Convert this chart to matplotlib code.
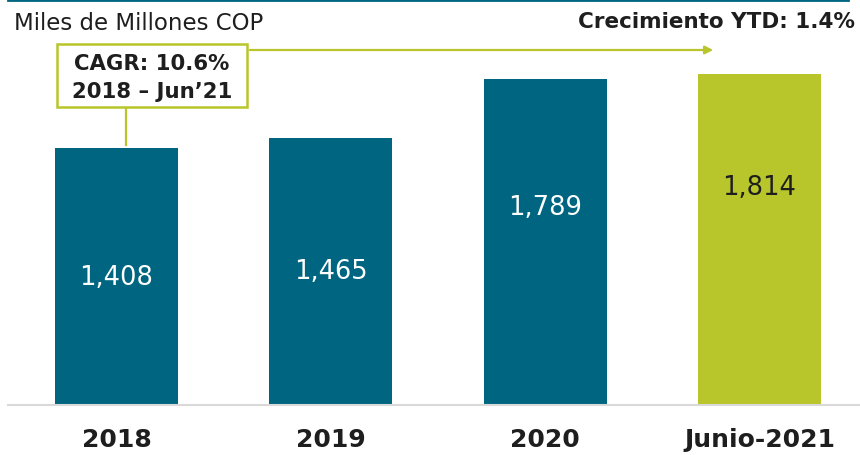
import matplotlib
matplotlib.use("Agg")
import matplotlib.pyplot as plt
from matplotlib.patches import Rectangle, FancyArrowPatch
from matplotlib.lines import Line2D

# Data
categories = ["2018", "2019", "2020", "Junio-2021"]
values = [1408, 1465, 1789, 1814]
value_labels = ["1,408", "1,465", "1,789", "1,814"]
label_heights = [700, 735, 1085, 1195]   # vertical placement of the value labels
cagr_text = "CAGR: 10.6%\n2018 – Jun’21"
ytd_text = "Crecimiento YTD: 1.4%"
unit_text = "Miles de Millones COP"

TEAL = "#006580"
GREEN = "#b8c62b"
DARK = "#1e1e1e"

W, H = 860, 456
fig = plt.figure(figsize=(W / 100, H / 100), dpi=100)
plt.rcParams["font.family"] = ["DejaVu Sans"]


def fx(x):
    return x / W


def fy(y):
    return 1 - y / H


ax = fig.add_axes([fx(8), fy(406), (860 - 8) / W, 406 / H])
colors = [TEAL, TEAL, TEAL, GREEN]
xs = range(len(categories))
ax.bar(xs, values, width=0.574, color=colors, zorder=2)
ax.set_xlim(-0.506, 3.469)
ax.set_ylim(0, 2225)
ax.set_yticks([])
ax.set_xticks(list(xs))
ax.set_xticklabels(categories, fontsize=18, fontweight="bold", color=DARK)
ax.tick_params(axis="x", length=0, pad=16)
for s in ["top", "right", "left"]:
    ax.spines[s].set_visible(False)
ax.spines["bottom"].set_color("#d9d9d9")
ax.spines["bottom"].set_linewidth(1.5)
ax.patch.set_alpha(0)

for i, (lab, h) in enumerate(zip(value_labels, label_heights)):
    ax.text(i, h, lab, ha="center", va="center", fontsize=18.5,
            color="white" if i < 3 else DARK, zorder=3)

# Top rule
fig.add_artist(Line2D([fx(8), fx(848)], [fy(1), fy(1)], color=TEAL, lw=2))

# Unit caption
fig.text(fx(14), fy(23), unit_text, fontsize=16.5, color=DARK, va="center", ha="left")

# Growth caption
fig.text(fx(855), fy(22), ytd_text, fontsize=15.5, fontweight="bold", color=DARK,
         va="center", ha="right")

# CAGR box with connectors
fig.add_artist(Line2D([fx(126), fx(126)], [fy(108), fy(146)], color=GREEN, lw=1.6))
fig.add_artist(FancyArrowPatch((fx(247), fy(51)), (fx(716), fy(51)),
                               transform=fig.transFigure, arrowstyle="-|>",
                               mutation_scale=12, color=GREEN, lw=1.6))
fig.add_artist(Rectangle((fx(57), fy(108)), (247 - 57) / W, (108 - 45) / H,
                         transform=fig.transFigure, facecolor="white",
                         edgecolor=GREEN, lw=1.8, zorder=5))
fig.text(fx(152), fy(78), cagr_text, fontsize=15.3, fontweight="bold", color=DARK,
         ha="center", va="center", linespacing=1.45, zorder=6)

fig.savefig("out.png", dpi=100)
